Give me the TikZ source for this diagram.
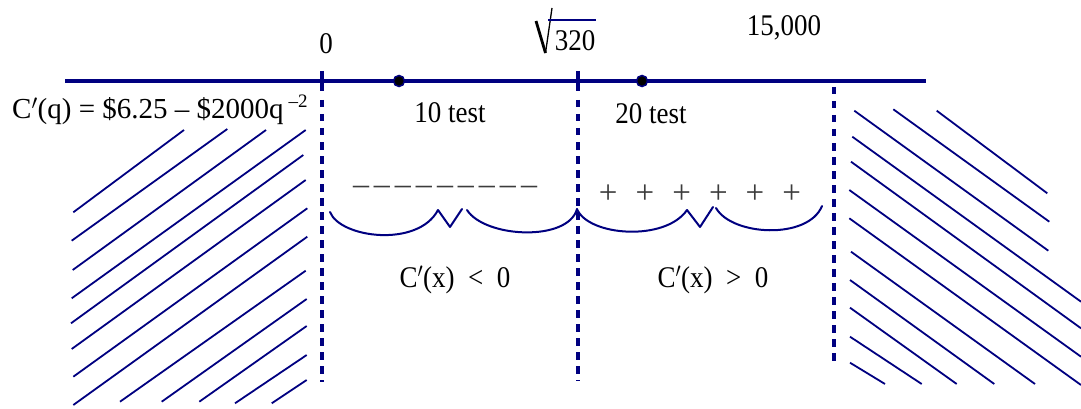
\documentclass[tikz,border=0pt]{standalone}
\usepackage{fontspec}
\setmainfont{Liberation Serif}
\definecolor{navy}{RGB}{0,0,128}
\definecolor{signgray}{RGB}{60,60,60}
\newcommand{\sx}[1]{\scalebox{0.9}[1]{#1}}
\begin{document}
\begin{tikzpicture}[x=1pt,y=-1pt,
  txt/.style={font=\fontsize{30}{32}\selectfont, inner sep=0pt, anchor=base},
  axisline/.style={navy, line width=4},
  tickline/.style={navy, line width=3.5},
  dashline/.style={navy, line width=3.5, dash pattern=on 7.5pt off 6.5pt},
  hatch/.style={navy, line width=1.8},
  brace/.style={navy, line width=2, line join=round, line cap=round},
  dot/.style={circle, fill=black, draw=navy, line width=1.5, minimum size=11pt, inner sep=0pt},
  sign/.style={inner sep=0pt, anchor=base, text=signgray}]
\useasboundingbox (0,0) rectangle (1081,409);

% axis
\coordinate (axL) at (65,81);
\coordinate (axR) at (926,81);
\draw[axisline] (axL) -- (axR);

% ticks and dashed lines
\coordinate (t0a) at (322,71); \coordinate (t0b) at (322,91);
\coordinate (t1a) at (578,71); \coordinate (t1b) at (578,91);
\draw[tickline] (t0a) -- (t0b);
\draw[tickline] (t1a) -- (t1b);
\coordinate (d0a) at (322,100); \coordinate (d0b) at (322,382);
\coordinate (d1a) at (578,100); \coordinate (d1b) at (578,381);
\coordinate (d2a) at (834,87);  \coordinate (d2b) at (834,363);
\draw[dashline] (d0a) -- (d0b);
\draw[dashline] (d1a) -- (d1b);
\draw[dashline] (d2a) -- (d2b);

% test points
\node[dot] (p10) at (399,81) {};
\node[dot] (p20) at (642,81) {};

% labels
\node[txt] (zero) at (326,54) {\sx{0}};
\node[txt] (rootnum) at (575,51) {\sx{320}};
\draw[black, line width=2.8] (536,21) -- (545.5,53);
\draw[black, line width=1.3] (545.5,53) -- (552,8);
\draw[navy, line width=1.6] (548,20) -- (596,20);
\node[txt] (fifteen) at (784,36) {\sx{15,000}};
\node[txt] (test10) at (450,123) {\sx{10 test}};
\node[txt] (test20) at (651,124) {\sx{20 test}};
\node[txt, font=\fontsize{29}{31}\selectfont, anchor=base west] (formula) at (12,119)
  {C$'$(q) = \$6.25 – \$2000q\hspace{5pt}\raisebox{11pt}{\fontsize{19}{19}\selectfont –2}};

% signs
\node[sign, font=\fontsize{32}{34}\selectfont] (minuses) at (445,194.8)
  {–\hspace{5pt}–\hspace{5pt}–\hspace{5pt}–\hspace{5pt}–\hspace{5pt}–\hspace{5pt}–\hspace{5pt}–\hspace{5pt}–};
\node[sign, font=\fontsize{33}{35}\selectfont] (pluses) at (700,203.5)
  {+\hspace{18.1pt}+\hspace{18.1pt}+\hspace{18.1pt}+\hspace{18.1pt}+\hspace{18.1pt}+};

% braces
\draw[brace] (330,212) .. controls (340,238) and (418,248) .. (438,210)
  -- (450,227) -- (462,209);
\draw[brace] (467,210) .. controls (485,238) and (568,242) .. (577,209);
\draw[brace] (577,209) .. controls (588,236) and (665,242) .. (687,210)
  -- (700,227) -- (713,207);
\draw[brace] (716,208) .. controls (732,236) and (808,240) .. (822,206);

\node[txt] (neg) at (455,287) {\sx{C$'$(x)\hspace{0.5em}<\hspace{0.5em}0}};
\node[txt] (pos) at (713,287) {\sx{C$'$(x)\hspace{0.5em}>\hspace{0.5em}0}};

% left hatching
\draw[hatch] (73.3,212.3) -- (184,130);
\draw[hatch] (71.7,240.7) -- (227.3,129);
\draw[hatch] (72.7,270) -- (266,130);
\draw[hatch] (71.7,298.3) -- (305.7,130);
\draw[hatch] (71,323.3) -- (303.3,155);
\draw[hatch] (71.7,349) -- (305.7,180);
\draw[hatch] (73.3,376.7) -- (307.3,208.3);
\draw[hatch] (73.3,405) -- (307.3,236.7);
\draw[hatch] (120,401.7) -- (305.7,270.7);
\draw[hatch] (161.7,401.7) -- (306.7,299);
\draw[hatch] (199.3,401.7) -- (306.7,326);
\draw[hatch] (235,403.3) -- (306.7,355);
\draw[hatch] (271.7,403.3) -- (306.7,380);

% right hatching
\draw[hatch] (936.7,110.7) -- (1047.3,193.3);
\draw[hatch] (893.3,109.3) -- (1049.3,221.7);
\draw[hatch] (854.3,110.7) -- (1048.3,250.7);
\draw[hatch] (852.3,136.7) -- (1081,301.7);
\draw[hatch] (851,161.7) -- (1081,328.3);
\draw[hatch] (849.3,190) -- (1081,356.7);
\draw[hatch] (849.3,218.3) -- (1081,385);
\draw[hatch] (851,251.7) -- (1035,384);
\draw[hatch] (850,280) -- (994.3,384);
\draw[hatch] (850,307.7) -- (956.7,384);
\draw[hatch] (850,336.7) -- (921.7,384);
\draw[hatch] (850,362.7) -- (885,384);
\end{tikzpicture}
\end{document}
